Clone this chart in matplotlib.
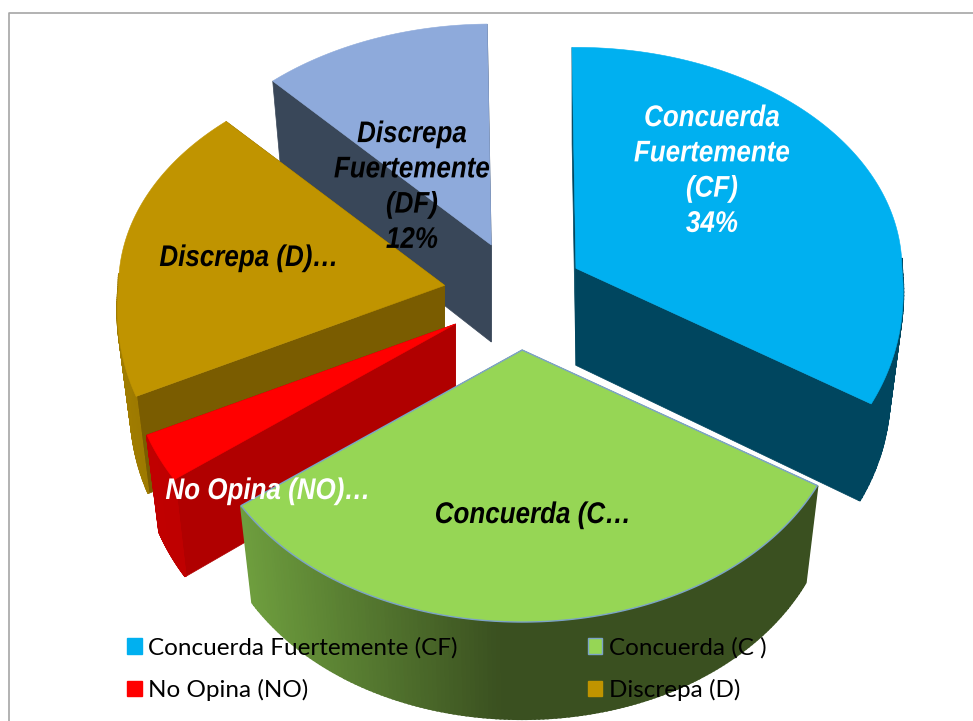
import numpy as np
import matplotlib
matplotlib.use("Agg")
import matplotlib.pyplot as plt
from matplotlib.patches import Polygon, Patch
from matplotlib.patheffects import AbstractPathEffect
from matplotlib.transforms import Affine2D
from matplotlib.colors import to_rgb

# ---- data ----
categories = ["Concuerda Fuertemente (CF)", "Concuerda (C )", "No Opina (NO)", "Discrepa (D)", "Discrepa Fuertemente (DF)"]
values = [33.5, 32, 3, 20, 11.5]
slice_labels = ["Concuerda\nFuertemente\n(CF)\n34%", "Concuerda (C…", "No Opina (NO)…", "Discrepa (D)…", "Discrepa\nFuertemente\n(DF)\n12%"]

# ---- style / layout ----
top_colors = ["#00B0F0", "#96D655", "#FF0000", "#C09400", "#8EAADB"]
side_colors = ["#00465F", "#3A5020", "#B00000", "#7A5C00", "#394759"]
rim_light = [None, "#6E9E3E", "#C00000", "#A07C00", None]
edge_colors = [None, "#7CA3C8", None, None, None]
explode = [66, 72, 73, 76, 76]
nudge_y = [-1, -2, 2, 4, 1]
label_xy = [(712, 171), (533, 515), (268, 491), (249, 258), (412, 187)]
label_colors = ["white", "black", "white", "black", "black"]
draw_order = [4, 3, 0, 2, 1]
CX, CY = 519, 292
A, B_UP, B_DOWN = 326, 221, 272
FRONT_WIDEN = 0.09
START_ANGLE = np.radians(-0.7)
DEPTH, SHRINK = 97, 0.96
LABEL_SQUEEZE = 0.87

fig = plt.figure(figsize=(9.73, 7.21), dpi=100, facecolor="white")
ax = fig.add_axes([0, 0, 1, 1])
ax.set_xlim(0, 973)
ax.set_ylim(721, 0)
ax.axis("off")

ax.plot([8.5, 8.5, 973], [721, 13, 13], color="#A6A6A6", lw=1.2, zorder=0)


class XSqueeze(AbstractPathEffect):
    """Draw text narrower about a fixed display x, keeping it real text."""
    def __init__(self, x0, sx):
        super().__init__()
        self.x0, self.sx = x0, sx

    def draw_path(self, renderer, gc, tpath, affine, rgbFace=None):
        t = Affine2D().translate(-self.x0, 0).scale(self.sx, 1).translate(self.x0, 0)
        renderer.draw_path(gc, tpath, affine + t, rgbFace)


def radial(theta):
    s, c = np.sin(theta), np.cos(theta)
    widen = 1 + FRONT_WIDEN * np.clip(-c, 0, None)
    return A * s * widen, np.where(c > 0, -B_UP * c, -B_DOWN * c)


def blend(c1, c2, f):
    a, b = np.array(to_rgb(c1)), np.array(to_rgb(c2))
    return tuple(a + (b - a) * f)


fractions = np.array(values, dtype=float) / sum(values)
edges = np.concatenate([[0], np.cumsum(fractions)]) * 2 * np.pi + START_ANGLE
z = 1
for i in draw_order:
    t0, t1 = edges[i], edges[i + 1]
    mid = (t0 + t1) / 2
    ox = CX + explode[i] * np.sin(mid)
    c = np.cos(mid)
    oy = CY - explode[i] * c * (B_UP / A if c > 0 else B_DOWN / A) + nudge_y[i]
    th = np.linspace(t0, t1, 160)
    rx, ry = radial(th)
    tx, ty = ox + rx, oy + ry
    bx, by = ox + rx * SHRINK, oy + DEPTH + ry

    for k in (0, -1):
        ax.add_patch(Polygon([(ox, oy), (tx[k], ty[k]), (bx[k], by[k]), (ox, oy + DEPTH)],
                             closed=True, fc=side_colors[i], ec=side_colors[i], lw=0.5, zorder=z))
    for k in range(len(th) - 1):
        if np.cos(th[k]) > 0.05:
            continue
        col = side_colors[i]
        if rim_light[i] is not None and tx.min() < ox:
            f = np.clip((ox - tx[k] - 20) / (ox - tx.min() - 20), 0, 1)
            col = blend(side_colors[i], rim_light[i], f)
        ax.add_patch(Polygon([(tx[k], ty[k]), (tx[k + 1], ty[k + 1]), (bx[k + 1], by[k + 1]), (bx[k], by[k])],
                             closed=True, fc=col, ec=col, lw=1.5, zorder=z))
    ax.add_patch(Polygon(np.column_stack([np.r_[ox, tx], np.r_[oy, ty]]), closed=True,
                         fc=top_colors[i], ec=edge_colors[i] or top_colors[i],
                         lw=1.0 if edge_colors[i] else 0.4, zorder=z + 1))
    z += 2

for lab, (x, y), col in zip(slice_labels, label_xy, label_colors):
    t = ax.text(x, y, lab, color=col, ha="center", va="center", multialignment="center",
                family="Liberation Sans", weight="bold", style="italic",
                fontsize=21.5, linespacing=1.33, zorder=50)
    t.set_path_effects([XSqueeze(ax.transData.transform((x, y))[0], LABEL_SQUEEZE)])

handles = [Patch(fc=top_colors[j], ec=edge_colors[j] or top_colors[j]) for j in (0, 2, 1, 3)]
legend_labels = [categories[j] for j in (0, 2, 1, 3)]
ax.legend(handles, legend_labels, ncol=2, loc="upper left", bbox_to_anchor=(127, 637),
          bbox_transform=ax.transData, frameon=False, prop={"family": "Lato", "size": 17.5},
          handlelength=0.6, handleheight=0.6, handletextpad=0.27, labelspacing=0.85,
          columnspacing=5.35, borderpad=0, borderaxespad=0).set_zorder(60)

fig.savefig("out.png", dpi=100, facecolor="white")
